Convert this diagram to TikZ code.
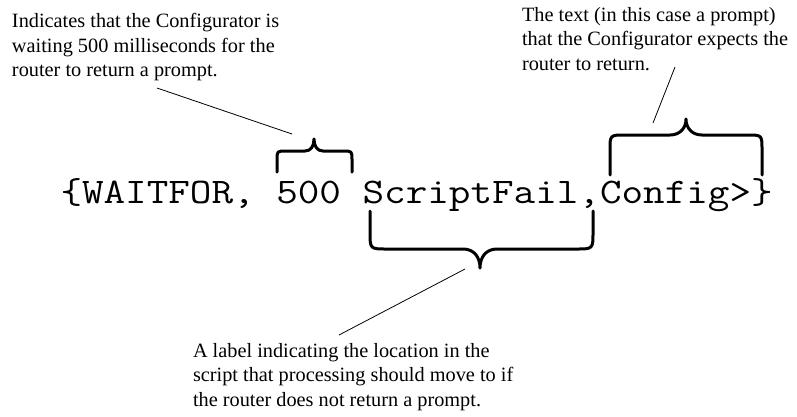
\documentclass[tikz,border=0pt]{standalone}
\usepackage{fontspec}
\usepackage{graphicx}
\setmainfont{Liberation Serif}
\tikzset{
  lbl/.style={font=\fontsize{20.3}{24}\selectfont, anchor=base west, inner sep=0pt, outer sep=0pt},
  codetext/.style={font=\ttfamily\fontsize{36}{40}\selectfont, anchor=base west, inner sep=0pt, outer sep=0pt},
  bracestroke/.style={draw=black, line width=3pt, line cap=round, line join=round},
  leader/.style={draw=black, line width=0.8pt}
}
\begin{document}
\begin{tikzpicture}[x=1pt,y=-1pt]
\useasboundingbox (0,0) rectangle (797,416);
% main code line
\node[codetext] (code) at (60.5,203) {\scalebox{1.164}[1]{\{WAITFOR, 500 ScriptFail,Config>\}}};
% braces
\draw[bracestroke] (277,172) -- (277,160) .. controls (277,151) .. (286,151) -- (305,151) .. controls (311,151) and (314,146) .. (314,139) .. controls (314,146) and (317,151) .. (323,151) -- (343,151) .. controls (352,151) .. (352,160) -- (352,172);
\draw[bracestroke] (610,175) -- (610,150) .. controls (610,135) .. (625,135) -- (670,135) .. controls (680,135) and (686,128) .. (686,119) .. controls (686,128) and (692,135) .. (702,135) -- (747,135) .. controls (762,135) .. (762,150) -- (762,175);
\draw[bracestroke] (370,211) -- (370,232) .. controls (370,249) .. (387,249) -- (463,249) .. controls (474,249) and (480,257) .. (480,268) .. controls (480,257) and (486,249) .. (497,249) -- (576,249) .. controls (593,249) .. (593,232) -- (593,211);
% labels
\node[lbl] (tla) at (12,27.5) {Indicates that the Configurator is};
\node[lbl] (tlb) at (12,52) {waiting 500 milliseconds for the};
\node[lbl] (tlc) at (12,76.5) {router to return a prompt.};
\node[lbl] (tra) at (522,21) {The text (in this case a prompt)};
\node[lbl] (trb) at (522,45.5) {that the Configurator expects the};
\node[lbl] (trc) at (522,70) {router to return.};
\node[lbl] (bla) at (193,357) {A label indicating the location in the};
\node[lbl] (blb) at (193,381.5) {script that processing should move to if};
\node[lbl] (blc) at (193,406) {the router does not return a prompt.};
% leader line end points
\coordinate (tlfrom) at (157,88);
\coordinate (tlto) at (292,134);
\coordinate (trfrom) at (675,67);
\coordinate (trto) at (653,123);
\coordinate (blfrom) at (465,269);
\coordinate (blto) at (339,335);
\draw[leader] (tlfrom) -- (tlto);
\draw[leader] (trfrom) -- (trto);
\draw[leader] (blfrom) -- (blto);
\end{tikzpicture}
\end{document}
